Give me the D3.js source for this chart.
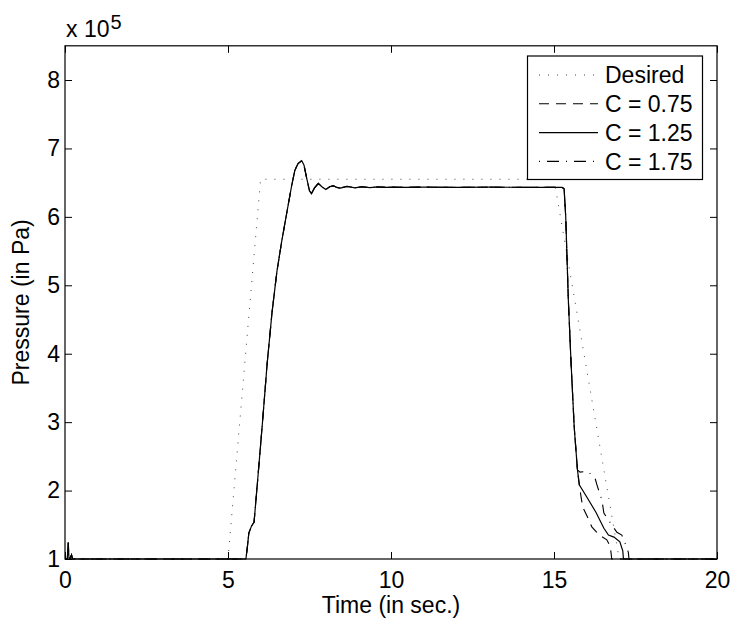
<!DOCTYPE html>
<html>
<head>
<meta charset="utf-8">
<script src="https://cdn.jsdelivr.net/npm/d3@7"></script>
<style>
  body { margin: 0; background: #fff; }
  svg text { font-family: "Liberation Sans", Arial, sans-serif; fill: #000; }
</style>
</head>
<body>
<div id="chart"></div>
<script>
// pressure values are in units of 10^5 Pa
const xTicks = [0, 5, 10, 15, 20];
const yTicks = [1, 2, 3, 4, 5, 6, 7, 8];

const desiredTime = [0, 5, 6, 15, 17, 20];
const desiredPressure = [1, 1, 6.55, 6.55, 1, 1];

// part where the three responses lie on top of each other
const sharedTime = [0, 0.07, 0.1, 0.12, 0.15, 0.2, 0.23, 0.27, 5.55, 5.6, 5.64, 5.72, 5.8, 5.9, 6.05, 6.2, 6.35, 6.5, 6.65, 6.8, 6.95, 7.05, 7.15, 7.26, 7.33, 7.42, 7.5, 7.56, 7.65, 7.77, 7.88, 8.0, 8.12, 8.23, 8.34, 8.44, 8.65, 8.9, 9.1, 9.35, 9.6, 9.85, 10.1, 10.5, 11, 12, 13, 14, 15, 15.25, 15.31, 15.36, 15.44, 15.52, 15.62, 15.68, 15.72];
const sharedPressure = [1, 1, 1.24, 1.02, 1, 1.06, 1, 1, 1, 1.2, 1.38, 1.48, 1.54, 2.1, 2.95, 3.85, 4.6, 5.2, 5.65, 6.05, 6.45, 6.68, 6.78, 6.82, 6.76, 6.55, 6.38, 6.34, 6.42, 6.49, 6.44, 6.4, 6.44, 6.455, 6.43, 6.42, 6.445, 6.425, 6.44, 6.428, 6.438, 6.43, 6.436, 6.432, 6.435, 6.432, 6.434, 6.432, 6.432, 6.43, 6.41, 6.0, 4.78, 3.9, 2.93, 2.55, 2.3];

const tailTimeC075 = [15.72, 15.78, 15.88, 16.02, 16.16, 16.39, 16.62, 16.72, 16.75, 16.77, 20];
const tailPressureC075 = [2.3, 2.06, 1.76, 1.62, 1.47, 1.35, 1.28, 1.19, 1.09, 1, 1];

const tailTimeC125 = [15.72, 15.78, 16.0, 16.29, 16.53, 16.67, 16.84, 17.02, 17.11, 17.13, 20];
const tailPressureC125 = [2.3, 2.08, 1.91, 1.68, 1.45, 1.35, 1.32, 1.25, 1.12, 1, 1];

const tailTimeC175 = [15.72, 15.8, 16.04, 16.26, 16.32, 16.47, 16.53, 16.77, 16.93, 17.08, 17.18, 17.28, 17.3, 20];
const tailPressureC175 = [2.3, 2.27, 2.28, 2.18, 2.08, 1.86, 1.67, 1.5, 1.39, 1.35, 1.23, 1.1, 1, 1];

const legendLabels = ["Desired", "C = 0.75", "C = 1.25", "C = 1.75"];

const zip = (ts, ps) => ts.map((t, i) => ({ t: t, p: ps[i] }));
const series = [
  { name: legendLabels[0], values: zip(desiredTime, desiredPressure), dash: "1,8", width: 1, color: "#444" },
  { name: legendLabels[1], values: zip(sharedTime, sharedPressure).concat(zip(tailTimeC075, tailPressureC075).slice(1)), dash: "10,7", width: 1.1, color: "#000" },
  { name: legendLabels[2], values: zip(sharedTime, sharedPressure).concat(zip(tailTimeC125, tailPressureC125).slice(1)), dash: null, width: 1.2, color: "#000" },
  { name: legendLabels[3], values: zip(sharedTime, sharedPressure).concat(zip(tailTimeC175, tailPressureC175).slice(1)), dash: "1,7,12,7", width: 1.1, color: "#000" }
];

const dims = { width: 733, height: 621, margin: { top: 45.8, right: 16, bottom: 62, left: 65 } };
dims.boundsWidth = dims.width - dims.margin.left - dims.margin.right;
dims.boundsHeight = dims.height - dims.margin.top - dims.margin.bottom;

const svg = d3.select("#chart").append("svg")
  .attr("width", dims.width)
  .attr("height", dims.height);

const g = svg.append("g")
  .attr("transform", `translate(${dims.margin.left},${dims.margin.top})`);

const x = d3.scaleLinear().domain([0, 20]).range([0, dims.boundsWidth]);
const y = d3.scaleLinear().domain([1, 8.5]).range([dims.boundsHeight, 0]);

g.append("clipPath").attr("id", "clip")
  .append("rect").attr("width", dims.boundsWidth).attr("height", dims.boundsHeight + 1);

const line = d3.line().x(d => x(d.t)).y(d => y(d.p));

const plot = g.append("g").attr("clip-path", "url(#clip)");
series.forEach(s => {
  plot.append("path")
    .datum(s.values)
    .attr("d", line)
    .attr("fill", "none")
    .attr("stroke", s.color)
    .attr("stroke-width", s.width)
    .attr("stroke-dasharray", s.dash);
});

// axes, matlab style: ticks inward on all four sides
const fs = 23;
const tickLen = 7;
const axisStyle = sel => {
  sel.select(".domain").remove();
  sel.selectAll("line").attr("stroke", "#000");
  sel.selectAll("text").attr("font-size", fs);
};

g.append("g")
  .attr("transform", `translate(0,${dims.boundsHeight})`)
  .call(d3.axisBottom(x).tickValues(xTicks).tickSize(-tickLen).tickPadding(13).tickFormat(d3.format("d")))
  .call(axisStyle);
g.append("g")
  .call(d3.axisTop(x).tickValues(xTicks).tickSize(-tickLen).tickFormat(""))
  .call(axisStyle);
g.append("g")
  .call(d3.axisLeft(y).tickValues(yTicks).tickSize(-tickLen).tickPadding(5).tickFormat(d3.format("d")))
  .call(axisStyle);
g.append("g")
  .attr("transform", `translate(${dims.boundsWidth},0)`)
  .call(d3.axisRight(y).tickValues(yTicks).tickSize(-tickLen).tickFormat(""))
  .call(axisStyle);

g.append("rect")
  .attr("width", dims.boundsWidth)
  .attr("height", dims.boundsHeight)
  .attr("fill", "none")
  .attr("stroke", "#000")
  .attr("stroke-width", 1.2);

// exponent label
const expo = svg.append("text")
  .attr("x", 66)
  .attr("y", 36.5)
  .attr("font-size", fs);
expo.append("tspan").text("x 10");
expo.append("tspan").attr("font-size", 20).attr("dy", -8).attr("dx", 1).text("5");

// axis titles
svg.append("text")
  .attr("text-anchor", "middle")
  .attr("x", dims.margin.left + dims.boundsWidth / 2)
  .attr("y", 613)
  .attr("font-size", fs)
  .text("Time (in sec.)");

svg.append("text")
  .attr("text-anchor", "middle")
  .attr("transform", `translate(29,${dims.margin.top + dims.boundsHeight / 2}) rotate(-90)`)
  .attr("font-size", fs)
  .text("Pressure (in Pa)");

// legend
const legend = svg.append("g");
legend.append("rect")
  .attr("x", 527.5).attr("y", 56)
  .attr("width", 175).attr("height", 123.5)
  .attr("fill", "#fff")
  .attr("stroke", "#000")
  .attr("stroke-width", 1.2);

series.forEach((s, i) => {
  const ly = 75 + i * 28.8;
  legend.append("line")
    .attr("x1", 539).attr("x2", 598)
    .attr("y1", ly).attr("y2", ly)
    .attr("stroke", s.color)
    .attr("stroke-width", s.width)
    .attr("stroke-dasharray", s.dash);
  legend.append("text")
    .attr("x", 605)
    .attr("y", ly)
    .attr("dy", "0.36em")
    .attr("font-size", fs)
    .text(s.name);
});
</script>
</body>
</html>
